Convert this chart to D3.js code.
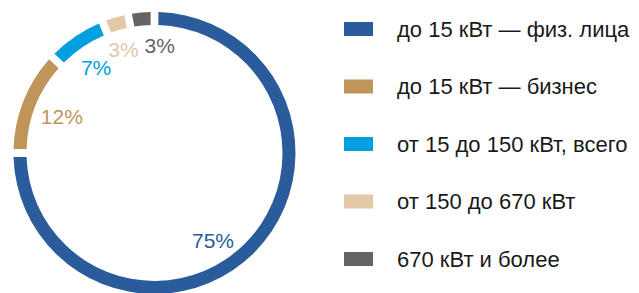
<!DOCTYPE html>
<html>
<head>
<meta charset="utf-8">
<script src="https://cdn.jsdelivr.net/npm/d3@7"></script>
<style>
  body { margin: 0; background: #fff; }
  text { font-family: "Liberation Sans", Arial, sans-serif; }
</style>
</head>
<body>
<svg width="639" height="293"></svg>
<script>
// shares of connections by capacity group
const categories = ['до 15 кВт — физ. лица', 'до 15 кВт — бизнес', 'от 15 до 150 кВт, всего', 'от 150 до 670 кВт', '670 кВт и более'];
const values = [75, 12, 7, 3, 3];
const colors = ['#2a5b9b', '#c0955a', '#00a0e0', '#e2c8a6', '#646464'];
// small hand nudges so the last labels don't collide
const labelNudge = [[-15, 14], [4, 2], [0, 1], [-2, -4], [15, -4]];

const svg = d3.select('svg');
const cx = 154.5, cy = 153;
const outerR = 141, innerR = 128;

const pie = d3.pie().sort(null).value(d => d)
const arcs = pie(values);

const arc = d3.arc()
  .innerRadius(innerR)
  .outerRadius(outerR)
  .padAngle(0.055)
  .padRadius(outerR);
const labelArc = d3.arc().innerRadius(104).outerRadius(104);

const g = svg.append('g').attr('transform', `translate(${cx},${cy})`);

g.selectAll('path')
  .data(arcs)
  .enter().append('path')
    .attr('d', arc)
    .attr('fill', (d, i) => colors[i]);

g.selectAll('text.pct')
  .data(arcs)
  .enter().append('text')
    .attr('class', 'pct')
    .attr('x', (d, i) => labelArc.centroid(d)[0] + labelNudge[i][0])
    .attr('y', (d, i) => labelArc.centroid(d)[1] + labelNudge[i][1])
    .attr('text-anchor', 'middle')
    .attr('dominant-baseline', 'central')
    .attr('font-size', 21)
    .attr('fill', (d, i) => colors[i])
    .text(d => d.value + '%');

// legend
const y = d3.scalePoint().domain(categories).range([29, 259]);
const legend = svg.append('g').selectAll('g')
  .data(categories)
  .enter().append('g')
    .attr('transform', d => `translate(344,${y(d)})`);
legend.append('rect')
  .attr('x', 0).attr('y', -7)
  .attr('width', 29).attr('height', 14)
  .attr('fill', (d, i) => colors[i]);
legend.append('text')
  .attr('x', 53)
  .attr('dominant-baseline', 'central')
  .attr('font-size', 22)
  .attr('fill', '#1a1a1a')
  .text(d => d);
</script>
</body>
</html>
